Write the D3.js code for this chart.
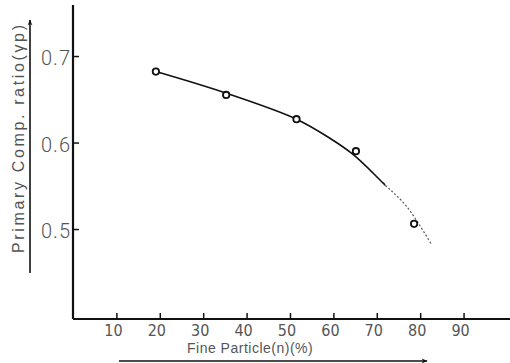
<!DOCTYPE html>
<html>
<head>
<meta charset="utf-8">
<script src="https://cdn.jsdelivr.net/npm/d3@7"></script>
<style>
  body { margin: 0; background: #fff; }
  svg { display: block; }
  text { font-family: "Liberation Sans", Arial, sans-serif; fill: #555; }
  .narrow { font-family: "Liberation Sans Narrow", "DejaVu Sans Condensed", sans-serif; }
  .thin { font-family: Roboto, "Liberation Sans", sans-serif; font-weight: 300; }
</style>
</head>
<body>
<svg id="chart" width="510" height="363"></svg>
<script>
// measured points
const fineParticle = [19.1, 35.3, 51.5, 65.2, 78.6];
const compRatio = [0.682, 0.655, 0.627, 0.590, 0.506];

// hand-drawn fitted curve
const fitX = [19.1, 35.3, 51.5, 59.2, 64.6, 71.5, 76.9, 82.5];
const fitY = [0.682, 0.657, 0.627, 0.605, 0.586, 0.553, 0.526, 0.483];

const xTicks = [10, 20, 30, 40, 50, 60, 70, 80, 90];
const yTicks = [0.5, 0.6, 0.7];

const svg = d3.select("#chart");

const x = d3.scaleLinear().domain([0, 100.7]).range([73, 510]);
const y = d3.scaleLinear().domain([0.396, 0.759]).range([319, 5]);

const defs = svg.append("defs");
defs.append("marker").attr("id", "arrow").attr("viewBox", "0 0 10 10").attr("refX", 9).attr("refY", 5)
    .attr("markerWidth", 9).attr("markerHeight", 6).attr("markerUnits", "userSpaceOnUse").attr("orient", "auto")
    .append("path").attr("d", "M 0 1 L 10 5 L 0 9 L 3 5 z").attr("fill", "#111");
defs.append("clipPath").attr("id", "solidPart").append("rect")
    .attr("x", 0).attr("y", 0).attr("width", x(72)).attr("height", 363);
defs.append("clipPath").attr("id", "dotPart").append("rect")
    .attr("x", x(72)).attr("y", 0).attr("width", 510 - x(72)).attr("height", 363);

// axes
const xAxis = svg.append("g").attr("transform", `translate(0,${y.range()[0]})`)
    .call(d3.axisTop(x).tickValues(xTicks).tickSize(6).tickFormat(""));
xAxis.select(".domain").attr("d", `M${x.range()[0]},0H${x.range()[1]}`).attr("stroke", "#111").attr("stroke-width", 2);
xAxis.selectAll(".tick line").attr("stroke", "#111").attr("stroke-width", 1.5);

const yAxis = svg.append("g").attr("transform", `translate(${x.range()[0]},0)`)
    .call(d3.axisRight(y).tickValues(yTicks).tickSize(6).tickFormat(""));
yAxis.select(".domain").attr("d", `M0,${y.range()[0]}V${y.range()[1]}`).attr("stroke", "#111").attr("stroke-width", 2.2);
yAxis.selectAll(".tick line").attr("stroke", "#111").attr("stroke-width", 1.5);

svg.append("g").selectAll("text").data(xTicks).enter().append("text")
    .attr("class", "narrow")
    .attr("x", d => x(d) - 3).attr("y", 336)
    .attr("text-anchor", "middle").attr("font-size", "16px")
    .text(d => d);

svg.append("g").selectAll("text").data(yTicks).enter().append("text")
    .attr("class", "thin")
    .attr("x", 71).attr("y", d => y(d) + 9)
    .attr("text-anchor", "end").attr("font-size", "20px").attr("letter-spacing", "1px")
    .text(d => d.toFixed(1));

// axis titles
svg.append("text")
    .attr("x", 187).attr("y", 353)
    .attr("font-size", "14px").attr("letter-spacing", "0.5px")
    .text("Fine Particle(n)(%)");
svg.append("line").attr("x1", 119).attr("y1", 361).attr("x2", 427).attr("y2", 361)
    .attr("stroke", "#111").attr("stroke-width", 1.6).attr("marker-end", "url(#arrow)");

svg.append("text")
    .attr("transform", "translate(24,139) rotate(-90)")
    .attr("text-anchor", "middle").attr("font-size", "16px")
    .attr("textLength", 228).attr("lengthAdjust", "spacing")
    .text("Primary Comp. ratio(γp)");
svg.append("line").attr("x1", 30).attr("y1", 273).attr("x2", 30).attr("y2", 20)
    .attr("stroke", "#111").attr("stroke-width", 1.6).attr("marker-end", "url(#arrow)");

// fitted curve
const fit = fitX.map((v, i) => [v, fitY[i]]);
const line = d3.line().x(d => x(d[0])).y(d => y(d[1])).curve(d3.curveCatmullRom);
svg.append("path").datum(fit).attr("d", line).attr("clip-path", "url(#solidPart)")
    .attr("fill", "none").attr("stroke", "#111").attr("stroke-width", 1.6);
svg.append("path").datum(fit).attr("d", line).attr("clip-path", "url(#dotPart)")
    .attr("fill", "none").attr("stroke", "#555").attr("stroke-width", 1.2).attr("stroke-dasharray", "2,2");

// data points
svg.append("g").selectAll("circle").data(fineParticle).enter().append("circle")
    .attr("cx", d => x(d)).attr("cy", (d, i) => y(compRatio[i]))
    .attr("r", 3.2).attr("fill", "#fff").attr("stroke", "#111").attr("stroke-width", 1.8);
</script>
</body>
</html>
